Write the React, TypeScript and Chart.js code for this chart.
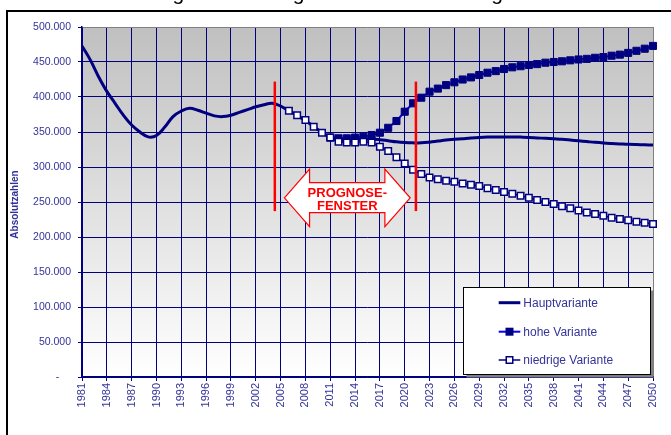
import { useEffect, useRef } from 'react';
import { Chart, registerables } from 'chart.js';

Chart.register(...registerables);

// Years on the category axis
const years: string[] = Array.from({ length: 70 }, (_, i) => String(1981 + i));

// Population figures (absolute numbers)
const hauptvariante = [
  473000, 453000, 429000, 408000, 391000, 374000, 360000, 350000, 343000, 345000,
  357000, 372000, 380000, 384000, 381000, 377000, 373000, 372000, 374000, 378000,
  382000, 386000, 389000, 391000, 387000, 380000, 374000, 366000, 358000, 349000,
  343000, 340000, 339000, 339000, 340000, 340000, 339000, 337500, 336000, 335000,
  334500, 334500, 335500, 337000, 338500, 339500, 340500, 341500, 342300, 342800,
  343000, 343000, 343000, 342700, 342300, 341600, 340900, 340200, 339500, 338500,
  337400, 336300, 335200, 334300, 333600, 333000, 332400, 332000, 331700, 331400,
];

const hoheStart = 2011;
const hoheVariante = [
  342000, 341000, 341000, 342000, 343000, 345700, 349000, 356000, 365700, 379000,
  391000, 399000, 407600, 412000, 417000, 421000, 425000, 428000, 431400, 434700,
  437000, 440000, 442400, 444000, 445700, 447000, 449000, 450000, 451000, 452400,
  453600, 454500, 456000, 457000, 459000, 460500, 463000, 466000, 469000, 473000,
];

const niedrigeStart = 2006;
const niedrigeVariante = [
  380400, 374000, 367000, 357600, 349000, 342000, 336000, 335000, 335000, 336000,
  335000, 329000, 323000, 314000, 305000, 296000, 290000, 285000, 282400, 280400,
  279000, 276600, 274700, 272900, 269500, 267000, 264300, 261900, 259000, 256000,
  252900, 250000, 247000, 244000, 241000, 238000, 235000, 232900, 230400, 227600,
  225700, 223900, 221900, 220400, 218600,
];

// Forecast window marker (years) and its vertical extent (values)
const prognoseFenster = [2004.3, 2021.35];
const fensterBereich = [237000, 422000];

const legendLabels = ['Hauptvariante', 'hohe Variante', 'niedrige Variante'];
const titel = 'Bevölkerungsentwicklung in der Stadt und Region';
const achsenTitel = 'Absolutzahlen';

const NAVY = '#000080';
const BLUE = '#0000ff';
const LABEL = '#333399';
const RED = '#ff0000';
const FONT = '"Liberation Sans", Arial, sans-serif';

const pad = (start: number, values: number[]) =>
  years.map((y) => {
    const i = Number(y) - start;
    return i >= 0 && i < values.length ? values[i] : null;
  });

const fmt = (v: number) =>
  v === 0 ? '-    ' : String(v).replace(/\B(?=(\d{3})+(?!\d))/g, '.');

function drawSquare(ctx: CanvasRenderingContext2D, x: number, y: number, s: number, fill: string) {
  ctx.fillStyle = fill;
  ctx.fillRect(x - s / 2, y - s / 2, s, s);
  ctx.strokeStyle = NAVY;
  ctx.lineWidth = 1.5;
  ctx.strokeRect(x - s / 2, y - s / 2, s, s);
}

const overlay = {
  id: 'overlay',
  beforeDraw(chart: any) {
    const { ctx, chartArea: a } = chart;
    ctx.save();
    ctx.fillStyle = '#ffffff';
    ctx.fillRect(0, 0, chart.width, chart.height);
    const g = ctx.createLinearGradient(0, a.top, 0, a.bottom);
    g.addColorStop(0, '#c0c0c0');
    g.addColorStop(1, '#ffffff');
    ctx.fillStyle = g;
    ctx.fillRect(a.left, a.top, a.right - a.left, a.bottom - a.top);
    ctx.restore();
  },
  afterDatasetsDraw(chart: any) {
    const { ctx } = chart;
    const xs = chart.scales.x;
    const ys = chart.scales.y;
    const px = (yr: number) => xs.getPixelForValue(yr - 1981);
    ctx.save();

    // forecast window bars
    ctx.strokeStyle = RED;
    ctx.lineWidth = 2.5;
    prognoseFenster.forEach((yr) => {
      const x = px(yr);
      ctx.beginPath();
      ctx.moveTo(x, ys.getPixelForValue(fensterBereich[1]));
      ctx.lineTo(x, ys.getPixelForValue(fensterBereich[0]));
      ctx.stroke();
    });

    // double-headed arrow between the bars
    const xl = px(2005.46);
    const xr = px(2020.66);
    const xbl = px(2008.5);
    const xbr = px(2017.6);
    const yc = ys.getPixelForValue(256000);
    const yht = ys.getPixelForValue(297000);
    const yhb = ys.getPixelForValue(214700);
    const ybt = ys.getPixelForValue(277600);
    const ybb = ys.getPixelForValue(234700);
    ctx.beginPath();
    ctx.moveTo(xl, yc);
    ctx.lineTo(xbl, yht);
    ctx.lineTo(xbl, ybt);
    ctx.lineTo(xbr, ybt);
    ctx.lineTo(xbr, yht);
    ctx.lineTo(xr, yc);
    ctx.lineTo(xbr, yhb);
    ctx.lineTo(xbr, ybb);
    ctx.lineTo(xbl, ybb);
    ctx.lineTo(xbl, yhb);
    ctx.closePath();
    ctx.fillStyle = '#ffffff';
    ctx.fill();
    ctx.strokeStyle = RED;
    ctx.lineWidth = 1.2;
    ctx.stroke();

    ctx.fillStyle = RED;
    ctx.font = `bold 13px ${FONT}`;
    ctx.textAlign = 'center';
    ctx.textBaseline = 'middle';
    const cx = (xl + xr) / 2;
    ctx.fillText('PROGNOSE-', cx, yc - 4.4);
    ctx.fillText('FENSTER', cx, yc + 9);
    ctx.restore();
  },
  afterDraw(chart: any) {
    const { ctx, chartArea: a } = chart;
    ctx.save();

    // legend box
    const lw = 187;
    const lh = 87;
    const lx = Math.round(a.right - 190.5) + 0.5;
    const ly = Math.round(a.bottom - 90) + 0.5;
    ctx.fillStyle = '#808080';
    ctx.fillRect(lx + 3, ly + 3, lw, lh);
    ctx.fillStyle = '#ffffff';
    ctx.fillRect(lx, ly, lw, lh);
    ctx.strokeStyle = '#000000';
    ctx.lineWidth = 1;
    ctx.strokeRect(lx, ly, lw, lh);

    const rows = [ly + 15.2, ly + 44.2, ly + 72.5];
    const sx0 = lx + 35.2;
    const sx1 = lx + 56.8;
    const smid = (sx0 + sx1) / 2;

    ctx.lineWidth = 3;
    ctx.strokeStyle = NAVY;
    ctx.beginPath();
    ctx.moveTo(sx0, rows[0]);
    ctx.lineTo(sx1, rows[0]);
    ctx.stroke();

    ctx.lineWidth = 2;
    ctx.strokeStyle = BLUE;
    ctx.beginPath();
    ctx.moveTo(sx0, rows[1]);
    ctx.lineTo(sx1, rows[1]);
    ctx.stroke();
    drawSquare(ctx, smid, rows[1], 6.5, NAVY);

    ctx.lineWidth = 1.5;
    ctx.strokeStyle = NAVY;
    ctx.beginPath();
    ctx.moveTo(sx0, rows[2]);
    ctx.lineTo(sx1, rows[2]);
    ctx.stroke();
    drawSquare(ctx, smid, rows[2], 6.5, '#ffffff');

    ctx.fillStyle = LABEL;
    ctx.font = `12px ${FONT}`;
    ctx.textAlign = 'left';
    ctx.textBaseline = 'middle';
    legendLabels.forEach((t, i) => ctx.fillText(t, lx + 59.8, rows[i] + 0.5));

    // y axis title
    ctx.save();
    ctx.translate(15.5, 204.5);
    ctx.rotate(-Math.PI / 2);
    ctx.font = `bold 10px ${FONT}`;
    ctx.textAlign = 'center';
    ctx.textBaseline = 'middle';
    ctx.fillStyle = LABEL;
    ctx.fillText(achsenTitel, 0, 0);
    ctx.restore();

    // chart title (mostly above the visible frame)
    ctx.fillStyle = '#000000';
    ctx.font = `21px ${FONT}`;
    ctx.textAlign = 'left';
    ctx.textBaseline = 'alphabetic';
    ctx.fillText(titel, 67.5, -0.5);

    // outer frame
    ctx.strokeStyle = '#000000';
    ctx.lineWidth = 2;
    ctx.strokeRect(7, 11, 800, 600);

    ctx.restore();
  },
};

export default function App() {
  const ref = useRef<HTMLCanvasElement | null>(null);

  useEffect(() => {
    if (!ref.current) return;
    const chart = new Chart(ref.current, {
      type: 'line',
      data: {
        labels: years,
        datasets: [
          {
            label: legendLabels[0],
            data: hauptvariante,
            borderColor: NAVY,
            borderWidth: 3,
            pointRadius: 0,
            tension: 0.4,
            order: 3,
          },
          {
            label: legendLabels[1],
            data: pad(hoheStart, hoheVariante),
            borderColor: BLUE,
            borderWidth: 2,
            pointStyle: 'rect',
            pointRadius: 5,
            pointBackgroundColor: NAVY,
            pointBorderColor: NAVY,
            pointBorderWidth: 1,
            tension: 0,
            order: 2,
          },
          {
            label: legendLabels[2],
            data: pad(niedrigeStart, niedrigeVariante),
            borderColor: NAVY,
            borderWidth: 1.5,
            pointStyle: 'rect',
            pointRadius: 4.6,
            pointBackgroundColor: '#ffffff',
            pointBorderColor: NAVY,
            pointBorderWidth: 1.5,
            tension: 0,
            order: 1,
          },
        ],
      },
      options: {
        responsive: false,
        animation: false,
        devicePixelRatio: 1,
        layout: { padding: { top: 27, right: 18, left: 0, bottom: 0 } },
        plugins: {
          legend: { display: false },
          tooltip: { enabled: false },
          title: { display: false },
        },
        scales: {
          x: {
            type: 'category',
            offset: false,
            afterFit: (s: any) => {
              s.height = 58;
            },
            border: { color: NAVY, width: 1.5 },
            grid: {
              lineWidth: 1,
              tickLength: 4,
              color: (c: any) =>
                c.index === years.length - 1 ? '#808080' : c.index % 3 === 0 ? NAVY : 'rgba(0,0,0,0)',
              tickColor: (c: any) => (c.index % 3 === 0 ? NAVY : 'rgba(0,0,0,0)'),
            },
            ticks: {
              autoSkip: false,
              minRotation: 90,
              maxRotation: 90,
              padding: 2,
              color: LABEL,
              font: { family: FONT, size: 11 },
              callback: (_v: any, i: number) => (i % 3 === 0 ? years[i] : ''),
            },
          },
          y: {
            min: 0,
            max: 500000,
            afterFit: (s: any) => {
              s.width = 82;
            },
            border: { color: NAVY, width: 1.5 },
            grid: {
              lineWidth: 1,
              tickLength: 4,
              color: (c: any) => (c.tick && c.tick.value === 500000 ? '#808080' : NAVY),
              tickColor: NAVY,
            },
            ticks: {
              stepSize: 50000,
              padding: 7,
              color: LABEL,
              font: { family: FONT, size: 10.5 },
              callback: (v: any) => fmt(Number(v)),
            },
          },
        },
      },
      plugins: [overlay],
    });
    return () => chart.destroy();
  }, []);

  return (
    <div style={{ position: 'absolute', left: 0, top: 0, width: 671, height: 435 }}>
      <canvas ref={ref} width={671} height={435} style={{ display: 'block', width: 671, height: 435 }} />
    </div>
  );
}
